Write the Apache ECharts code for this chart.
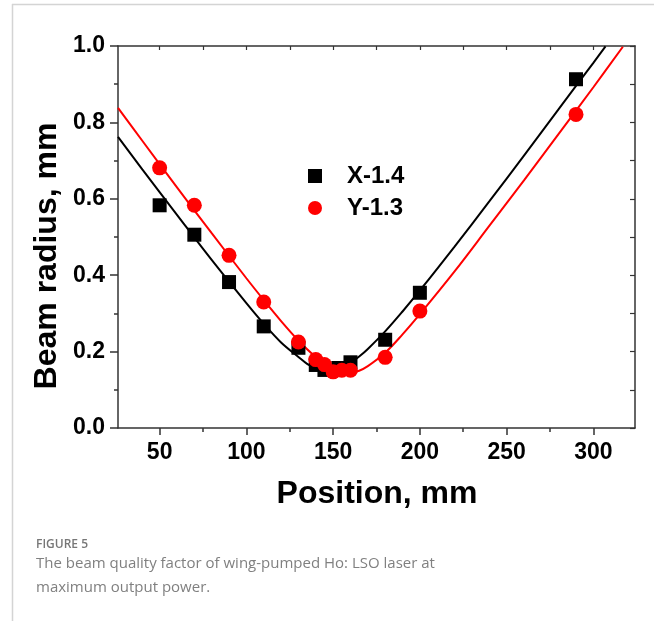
<!DOCTYPE html>
<html>
<head>
<meta charset="utf-8">
<script src="https://cdn.jsdelivr.net/npm/echarts@6/dist/echarts.min.js"></script>
<style>
html,body{margin:0;padding:0;background:#fff;}
#chart{width:654px;height:621px;}
</style>
</head>
<body>
<div id="chart"></div>
<script>
// ---- data ----
const xTickValues = [50, 100, 150, 200, 250, 300];
const xMinorTickValues = [75, 125, 175, 225, 275];
const xTopTickValues = [50, 75, 100, 125, 150, 175, 200, 225, 250, 275, 300];

const seriesXName = 'X-1.4';
const seriesYName = 'Y-1.3';

// measured points
const posX = [50, 70, 90, 110, 130, 140, 145, 153, 160, 180, 200, 290];
const radiusX = [0.583, 0.506, 0.382, 0.266, 0.210, 0.165, 0.152, 0.157, 0.172, 0.231, 0.354, 0.913];

const posY = [50, 70, 90, 110, 130, 140, 145, 150, 155, 160, 180, 200, 290];
const radiusY = [0.681, 0.583, 0.452, 0.330, 0.225, 0.179, 0.166, 0.147, 0.151, 0.151, 0.185, 0.306, 0.821];

// fitted curves
const fitPosX = [26, 40, 60, 80, 100, 110, 120, 130, 135, 140, 145, 150, 155, 160, 165, 170, 180, 190, 200, 220, 240, 260, 280, 300, 307];
const fitValX = [0.762, 0.677, 0.558, 0.440, 0.327, 0.273, 0.224, 0.186, 0.168, 0.156, 0.151, 0.151, 0.158, 0.170, 0.187, 0.207, 0.253, 0.305, 0.360, 0.475, 0.593, 0.713, 0.835, 0.956, 0.999];

const fitPosY = [26, 40, 60, 80, 100, 110, 120, 130, 140, 145, 150, 155, 160, 165, 170, 180, 190, 200, 220, 240, 260, 280, 300, 317];
const fitValY = [0.838, 0.752, 0.630, 0.510, 0.392, 0.335, 0.280, 0.229, 0.185, 0.168, 0.154, 0.147, 0.145, 0.150, 0.162, 0.197, 0.245, 0.298, 0.410, 0.529, 0.648, 0.770, 0.892, 0.998];

const zip = (a, b) => a.map((v, i) => [v, b[i]]);

const FONT = "'Liberation Sans', Arial, Helvetica, sans-serif";
const CAPFONT = "'Open Sans', 'Noto Sans', sans-serif";
const AXIS_COLOR = '#333';
const X_MIN = 26, X_MAX = 324;

const chart = echarts.init(document.getElementById('chart'), null, {renderer: 'canvas'});

const option = {
  animation: false,
  backgroundColor: '#fff',
  grid: {left: 118, right: 19, top: 46, bottom: 193, containLabel: false},
  legend: {
    left: 303,
    top: 159,
    padding: 5,
    orient: 'vertical',
    itemWidth: 14,
    itemHeight: 14,
    itemGap: 8,
    data: [seriesXName, seriesYName],
    formatter: n => '   ' + n,
    textStyle: {fontFamily: FONT, fontWeight: 'bold', fontSize: 24, color: '#000', lineHeight: 24}
  },
  xAxis: [
    {
      type: 'value', min: X_MIN, max: X_MAX, position: 'bottom',
      axisLine: {show: true, onZero: false, lineStyle: {color: AXIS_COLOR, width: 1.5}},
      axisTick: {show: true, inside: false, length: 7, customValues: xTickValues, lineStyle: {color: AXIS_COLOR, width: 1.5}},
      axisLabel: {show: true, customValues: xTickValues, margin: 13, fontFamily: FONT, fontWeight: 'bold', fontSize: 23, color: '#000'},
      splitLine: {show: false}
    },
    {
      type: 'value', min: X_MIN, max: X_MAX, position: 'bottom',
      axisLine: {show: false},
      axisTick: {show: true, inside: false, length: 4, customValues: xMinorTickValues, lineStyle: {color: AXIS_COLOR, width: 1.5}},
      axisLabel: {show: false},
      splitLine: {show: false}
    },
    {
      type: 'value', min: X_MIN, max: X_MAX, position: 'top',
      axisLine: {show: true, onZero: false, lineStyle: {color: AXIS_COLOR, width: 1.5}},
      axisTick: {show: true, inside: true, length: 4, customValues: xTopTickValues, lineStyle: {color: AXIS_COLOR, width: 1.2}},
      axisLabel: {show: false},
      splitLine: {show: false}
    }
  ],
  yAxis: [
    {
      type: 'value', min: 0, max: 1, interval: 0.2, position: 'left',
      axisLine: {show: true, onZero: false, lineStyle: {color: AXIS_COLOR, width: 1.5}},
      axisTick: {show: true, inside: false, length: 8, lineStyle: {color: AXIS_COLOR, width: 1.5}},
      minorTick: {show: true, splitNumber: 2, length: 4, lineStyle: {color: AXIS_COLOR, width: 1.5}},
      axisLabel: {show: true, margin: 13, formatter: v => v.toFixed(1), fontFamily: FONT, fontWeight: 'bold', fontSize: 23, color: '#000'},
      splitLine: {show: false},
      minorSplitLine: {show: false}
    },
    {
      type: 'value', min: 0, max: 1, interval: 0.1, position: 'right',
      axisLine: {show: true, onZero: false, lineStyle: {color: AXIS_COLOR, width: 1.5}},
      axisTick: {show: true, inside: true, length: 5, lineStyle: {color: AXIS_COLOR, width: 1.2}},
      axisLabel: {show: false},
      splitLine: {show: false}
    }
  ],
  series: [
    {
      name: 'fitX', type: 'line', xAxisIndex: 0, yAxisIndex: 0,
      data: zip(fitPosX, fitValX), smooth: 0.35, showSymbol: false, symbol: 'none',
      lineStyle: {color: '#000', width: 2}, silent: true, z: 2
    },
    {
      name: 'fitY', type: 'line', xAxisIndex: 0, yAxisIndex: 0,
      data: zip(fitPosY, fitValY), smooth: 0.35, showSymbol: false, symbol: 'none',
      lineStyle: {color: '#ff0000', width: 2}, silent: true, z: 3
    },
    {
      name: seriesXName, type: 'scatter', xAxisIndex: 0, yAxisIndex: 0,
      data: zip(posX, radiusX), symbol: 'rect', symbolSize: 14,
      itemStyle: {color: '#000', opacity: 1}, z: 4
    },
    {
      name: seriesYName, type: 'scatter', xAxisIndex: 0, yAxisIndex: 0,
      data: zip(posY, radiusY), symbol: 'circle', symbolSize: 15,
      itemStyle: {color: '#ff0000', opacity: 1}, z: 5
    }
  ],
  graphic: [
    {type: 'line', shape: {x1: 12, y1: 4.5, x2: 654, y2: 4.5}, style: {stroke: '#d4d4d4', lineWidth: 1.5}, silent: true},
    {type: 'line', shape: {x1: 12.5, y1: 4, x2: 12.5, y2: 621}, style: {stroke: '#d4d4d4', lineWidth: 1.5}, silent: true},
    {
      type: 'text', x: 377, y: 494,
      style: {text: 'Position, mm', fontFamily: FONT, fontWeight: 'bold', fontSize: 32, fill: '#000', align: 'center', verticalAlign: 'middle'}
    },
    {
      type: 'text', x: 47, y: 256, rotation: Math.PI / 2,
      style: {text: 'Beam radius, mm', fontFamily: FONT, fontWeight: 'bold', fontSize: 32, fill: '#000', align: 'center', verticalAlign: 'middle'}
    },
    {
      type: 'text', x: 36, y: 545,
      style: {text: 'FIGURE 5', fontFamily: CAPFONT, fontWeight: 600, fontSize: 12, fill: '#777', align: 'left', verticalAlign: 'middle'}
    },
    {
      type: 'text', x: 36, y: 564,
      style: {text: 'The beam quality factor of wing-pumped Ho: LSO laser at', fontFamily: CAPFONT, fontSize: 15, fill: '#808080', align: 'left', verticalAlign: 'middle'}
    },
    {
      type: 'text', x: 36, y: 588,
      style: {text: 'maximum output power.', fontFamily: CAPFONT, fontSize: 15, fill: '#808080', align: 'left', verticalAlign: 'middle'}
    }
  ]
};
chart.setOption(option);
</script>
</body>
</html>
